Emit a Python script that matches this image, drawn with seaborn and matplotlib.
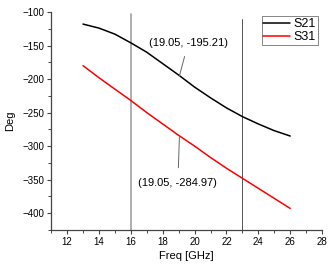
import pandas as pd
import matplotlib.pyplot as plt
import seaborn as sns
from matplotlib.ticker import MultipleLocator

# Datos
freq = [13, 14, 15, 16, 17, 18, 19, 20, 21, 22, 23, 24, 25, 26]
s21 = [-118, -124, -133, -146, -160, -177, -194, -212, -228, -243, -256, -267, -277, -285]
s31 = [-180, -198, -215, -232, -250, -267, -284, -300, -317, -333, -348, -363, -378, -393]
markers_x = [16, 23]
ann_x = 19.05
ann_s21 = -195.21
ann_s31 = -284.97

df = pd.DataFrame({
    'Freq': freq * 2,
    'Deg': s21 + s31,
    'Serie': ['S21'] * len(freq) + ['S31'] * len(freq),
})

sns.set_style('ticks')
plt.rcParams['font.family'] = ['Liberation Sans', 'DejaVu Sans']
plt.rcParams['text.color'] = 'black'
plt.rcParams['axes.labelcolor'] = 'black'

fig = plt.figure(figsize=(3.3, 2.67), dpi=100)
ax = fig.add_axes([0.155, 0.139, 0.821, 0.816])

sns.lineplot(data=df, x='Freq', y='Deg', hue='Serie',
             palette={'S21': 'black', 'S31': '#ff0000'}, linewidth=1.1, ax=ax)

# Lineas verticales
ax.axvline(markers_x[0], ymax=0.99, color='#999999', lw=1.1, zorder=1)
ax.axvline(markers_x[1], ymax=0.97, color='#555555', lw=0.7, zorder=1)

ax.set_xlim(11, 28)
ax.set_ylim(-425, -100)
ax.xaxis.set_major_locator(MultipleLocator(2))
ax.xaxis.set_minor_locator(MultipleLocator(1))
ax.yaxis.set_major_locator(MultipleLocator(50))
ax.yaxis.set_minor_locator(MultipleLocator(25))
ax.tick_params(which='major', length=3, width=0.8, labelsize=7, colors='#444444', labelcolor='black', pad=2)
ax.tick_params(which='minor', length=2, width=0.7, colors='#444444')
for s in ['left', 'bottom']:
    ax.spines[s].set_color('#444444')
    ax.spines[s].set_linewidth(0.9)
sns.despine(ax=ax)

ax.set_xlabel('Freq [GHz]', fontsize=8, labelpad=3)
ax.set_ylabel('Deg', fontsize=8, labelpad=5)

# Anotaciones
ax.annotate(f'({ann_x}, {ann_s21})', xy=(ann_x, ann_s21), xytext=(19.6, -146),
            fontsize=8, ha='center', va='center', color='black',
            arrowprops=dict(arrowstyle='-', color='#666666', lw=0.7, shrinkA=4, shrinkB=0))
ax.annotate(f'({ann_x}, {ann_s31})', xy=(ann_x, ann_s31), xytext=(18.95, -355),
            fontsize=8, ha='center', va='center', color='black',
            arrowprops=dict(arrowstyle='-', color='#666666', lw=0.7, shrinkA=5, shrinkB=0))

leg = ax.legend(loc='upper right', bbox_to_anchor=(1.0, 1.0), fontsize=9, frameon=True,
                fancybox=False, edgecolor='#666666', handlelength=2.1, borderpad=0.15,
                labelspacing=0.05, handletextpad=0.3, borderaxespad=0.35)
leg.get_frame().set_linewidth(0.7)
for t in leg.get_texts():
    t.set_color('black')

plt.savefig('out.png', dpi=100, facecolor='white')
plt.close()
